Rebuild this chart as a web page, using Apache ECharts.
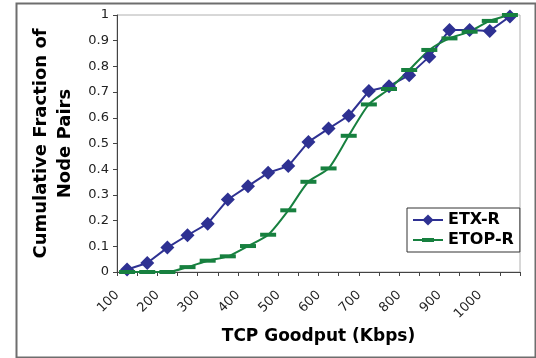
<!DOCTYPE html>
<html>
<head>
<meta charset="utf-8">
<script src="https://cdn.jsdelivr.net/npm/echarts@6/dist/echarts.min.js"></script>
<style>
html,body{margin:0;padding:0;background:#fff;}
#chart{width:536px;height:358px;}
</style>
</head>
<body>
<div id="chart"></div>
<script>
var categories = ['100','150','200','250','300','350','400','450','500','550','600','650','700','750','800','850','900','950','1000','1050'];
var etxR = [0.01,0.035,0.095,0.143,0.188,0.282,0.334,0.386,0.412,0.506,0.558,0.608,0.704,0.723,0.766,0.838,0.942,0.942,0.938,0.994];
var etopR = [0,0,0,0.019,0.044,0.061,0.101,0.145,0.240,0.351,0.403,0.530,0.652,0.712,0.786,0.864,0.909,0.935,0.977,1.0];
var seriesNames = ['ETX-R','ETOP-R'];
var yTicks = {min:0, max:1, interval:0.1};

var FONT = 'DejaVu Sans';
var blue = '#2e3192';
var green = '#17803f';

var chart = echarts.init(document.getElementById('chart'), null, {renderer:'canvas'});
chart.setOption({
  backgroundColor:'#fff',
  animation:false,
  textStyle:{fontFamily:FONT},
  graphic:[{
    type:'rect', left:14, top:1, z:100, silent:true,
    shape:{x:0,y:0,width:519,height:354},
    style:{fill:'none', stroke:'#6e6e6e', lineWidth:2}
  }],
  grid:{left:117, right:16, top:15, bottom:86, show:true, borderColor:'#b0b0b0', borderWidth:1, backgroundColor:'#fff'},
  legend:{
    left:407, top:208, orient:'vertical',
    data:[
      {name:seriesNames[0]},
      {name:seriesNames[1], icon:'path://M0,1L9,1L9,0L21,0L21,1L30,1L30,3L21,3L21,4L9,4L9,3L0,3Z'}
    ],
    itemWidth:30, itemHeight:14, itemGap:4,
    padding:[4,6,4,5],
    borderColor:'#333', borderWidth:1,
    backgroundColor:'#fff',
    textStyle:{fontFamily:FONT, fontSize:16, fontWeight:'bold', color:'#000'}
  },
  xAxis:{
    type:'category', data:categories, boundaryGap:true,
    name:'TCP Goodput (Kbps)', nameLocation:'middle', nameGap:54,
    nameTextStyle:{fontFamily:FONT, fontSize:17, fontWeight:'bold', color:'#000'},
    axisLine:{lineStyle:{color:'#444', width:1}},
    axisTick:{show:true, interval:0, length:4, lineStyle:{color:'#444'}},
    axisLabel:{interval:1, rotate:45, fontSize:13, color:'#222', margin:11, padding:[0,14,0,0], fontFamily:FONT},
    splitLine:{show:false}
  },
  yAxis:{
    type:'value', min:yTicks.min, max:yTicks.max, interval:yTicks.interval,
    name:'Cumulative Fraction of\nNode Pairs', nameLocation:'middle', nameGap:31, nameRotate:90,
    nameTextStyle:{fontFamily:FONT, fontSize:18, fontWeight:'bold', color:'#000', lineHeight:24, align:'center'},
    axisLine:{show:true, lineStyle:{color:'#444', width:1}},
    axisTick:{show:true, length:4, lineStyle:{color:'#444'}},
    axisLabel:{fontSize:13, color:'#222', margin:8, fontFamily:FONT},
    splitLine:{show:false}
  },
  series:[{
    name:seriesNames[0], type:'line', data:etxR,
    symbol:'diamond', symbolSize:14, showAllSymbol:true,
    lineStyle:{color:blue, width:2},
    itemStyle:{color:blue}
  },{
    name:seriesNames[1], type:'line', data:etopR, smooth:0.25,
    symbol:'rect', symbolSize:[16,4], showAllSymbol:true,
    lineStyle:{color:green, width:2},
    itemStyle:{color:green}
  }]
});
</script>
</body>
</html>
